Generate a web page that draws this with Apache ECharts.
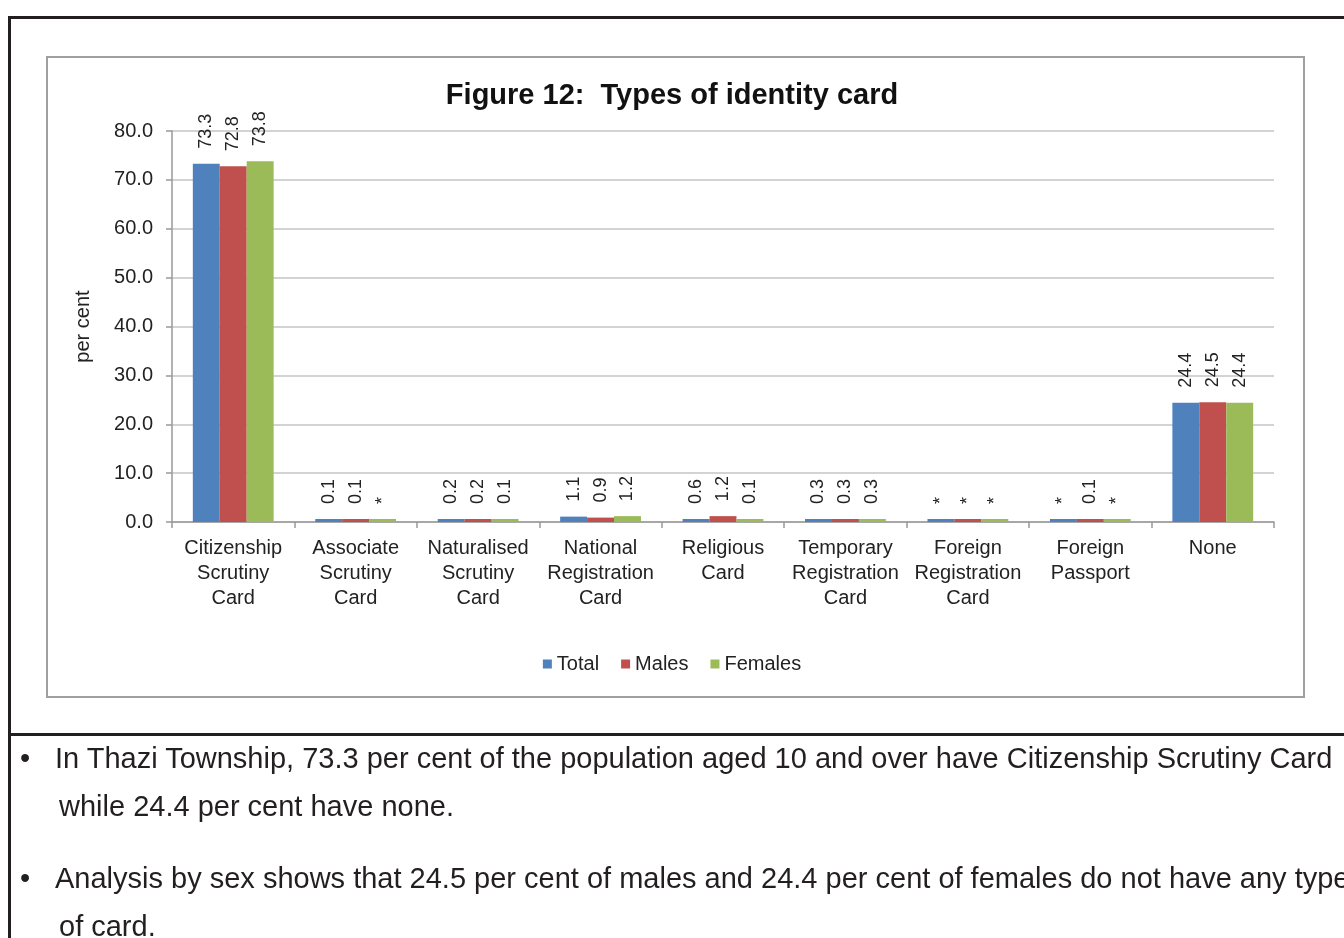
<!DOCTYPE html>
<html>
<head>
<meta charset="utf-8">
<title>Figure 12: Types of identity card</title>
<script src="https://cdn.jsdelivr.net/npm/echarts@6/dist/echarts.min.js"></script>
<style>
  html, body { margin: 0; padding: 0; background: #fff; }
  body { width: 1344px; height: 938px; position: relative; overflow: hidden;
         font-family: "Liberation Sans", Arial, sans-serif; }
  .frame-top { position: absolute; left: 8px; top: 16px; width: 1400px; height: 3px; background: #231f20; }
  .frame-left { position: absolute; left: 8px; top: 16px; width: 3px; height: 960px; background: #231f20; }
  .frame-sep { position: absolute; left: 8px; top: 733px; width: 1400px; height: 3px; background: #231f20; }
  .chart-box { position: absolute; left: 46px; top: 56px; width: 1255px; height: 638px;
               border: 2px solid #a0a0a0; }
  #chart { position: absolute; left: 0; top: 0; width: 1344px; height: 938px; }
  .note { position: absolute; font-size: 29px; color: #231f20; white-space: nowrap; line-height: 34px; }
</style>
</head>
<body>
<div class="frame-top"></div>
<div class="frame-left"></div>
<div class="frame-sep"></div>
<div class="chart-box"></div>
<div id="chart"></div>

<div class="note" style="left:20px; top:741px;">•</div>
<div class="note" style="left:55px; top:741px;">In Thazi Township, 73.3 per cent of the population aged 10 and over have Citizenship Scrutiny Card</div>
<div class="note" style="left:59px; top:789px;">while 24.4 per cent have none.</div>
<div class="note" style="left:20px; top:861px;">•</div>
<div class="note" style="left:55px; top:861px;">Analysis by sex shows that 24.5 per cent of males and 24.4 per cent of females do not have any type</div>
<div class="note" style="left:59px; top:909px;">of card.</div>

<script>
// Card types (axis categories)
const categories = [
  'Citizenship\nScrutiny\nCard',
  'Associate\nScrutiny\nCard',
  'Naturalised\nScrutiny\nCard',
  'National\nRegistration\nCard',
  'Religious\nCard',
  'Temporary\nRegistration\nCard',
  'Foreign\nRegistration\nCard',
  'Foreign\nPassport',
  'None'
];

// Percentages; '*' marks a share too small to show
const totalValues   = [73.3, 0.1, 0.2, 1.1, 0.6, 0.3, '*', '*', 24.4];
const malesValues   = [72.8, 0.1, 0.2, 0.9, 1.2, 0.3, '*', 0.1, 24.5];
const femalesValues = [73.8, '*', 0.1, 1.2, 0.1, 0.3, '*', '*', 24.4];

const yTicks = { min: 0, max: 80, interval: 10 };

const seriesNames = ['Total', 'Males', 'Females'];
const seriesColors = ['#4F81BD', '#C0504D', '#9BBB59'];

const FONT = '"Liberation Sans", Arial, sans-serif';

function toData(values) {
  return values.map(v => ({
    value: v === '*' ? 0 : v,
    labelText: v === '*' ? '*' : v.toFixed(1)
  }));
}

function makeSeries(name, values, color) {
  const data = toData(values);
  return {
    name: name,
    type: 'bar',
    barGap: '0%',
    barCategoryGap: '34%',
    barMinHeight: 3,
    itemStyle: { color: color },
    data: data.map(d => d.value),
    label: {
      show: true,
      position: 'top',
      distance: 15,
      rotate: 90,
      align: 'left',
      verticalAlign: 'middle',
      fontFamily: FONT,
      fontSize: 18,
      color: '#222',
      formatter: p => data[p.dataIndex].labelText
    }
  };
}

const chart = echarts.init(document.getElementById('chart'), null, { renderer: 'canvas' });

chart.setOption({
  animation: false,
  backgroundColor: 'transparent',
  title: {
    text: 'Figure 12:  Types of identity card',
    left: 'center',
    top: 81,
    padding: 0,
    textStyle: { fontFamily: FONT, fontSize: 29, fontWeight: 'bold', color: '#111' }
  },
  legend: {
    data: seriesNames,
    left: 'center',
    top: 649,
    itemWidth: 9,
    itemHeight: 9,
    itemGap: 22,
    icon: 'rect',
    textStyle: { fontFamily: FONT, fontSize: 20, color: '#222' }
  },
  grid: { left: 172, right: 70, top: 131, bottom: 416, containLabel: false },
  xAxis: {
    type: 'category',
    data: categories,
    axisLine: { lineStyle: { color: '#999', width: 1.5 } },
    axisTick: { show: true, length: 6, lineStyle: { color: '#999', width: 1.5 } },
    axisLabel: {
      interval: 0,
      margin: 14,
      fontFamily: FONT,
      fontSize: 20,
      lineHeight: 25,
      color: '#222'
    }
  },
  yAxis: {
    type: 'value',
    min: yTicks.min,
    max: yTicks.max,
    interval: yTicks.interval,
    name: 'per cent',
    nameLocation: 'middle',
    nameGap: 79,
    nameTextStyle: { fontFamily: FONT, fontSize: 20, color: '#222' },
    axisLine: { show: true, lineStyle: { color: '#999', width: 1.5 } },
    axisTick: { show: true, length: 6, lineStyle: { color: '#999', width: 1.5 } },
    splitLine: { lineStyle: { color: '#c4c4c4', width: 1.5 } },
    axisLabel: {
      margin: 19,
      fontFamily: FONT,
      fontSize: 20,
      color: '#222',
      formatter: v => v.toFixed(1)
    }
  },
  series: [
    makeSeries(seriesNames[0], totalValues, seriesColors[0]),
    makeSeries(seriesNames[1], malesValues, seriesColors[1]),
    makeSeries(seriesNames[2], femalesValues, seriesColors[2])
  ]
});
</script>
</body>
</html>
